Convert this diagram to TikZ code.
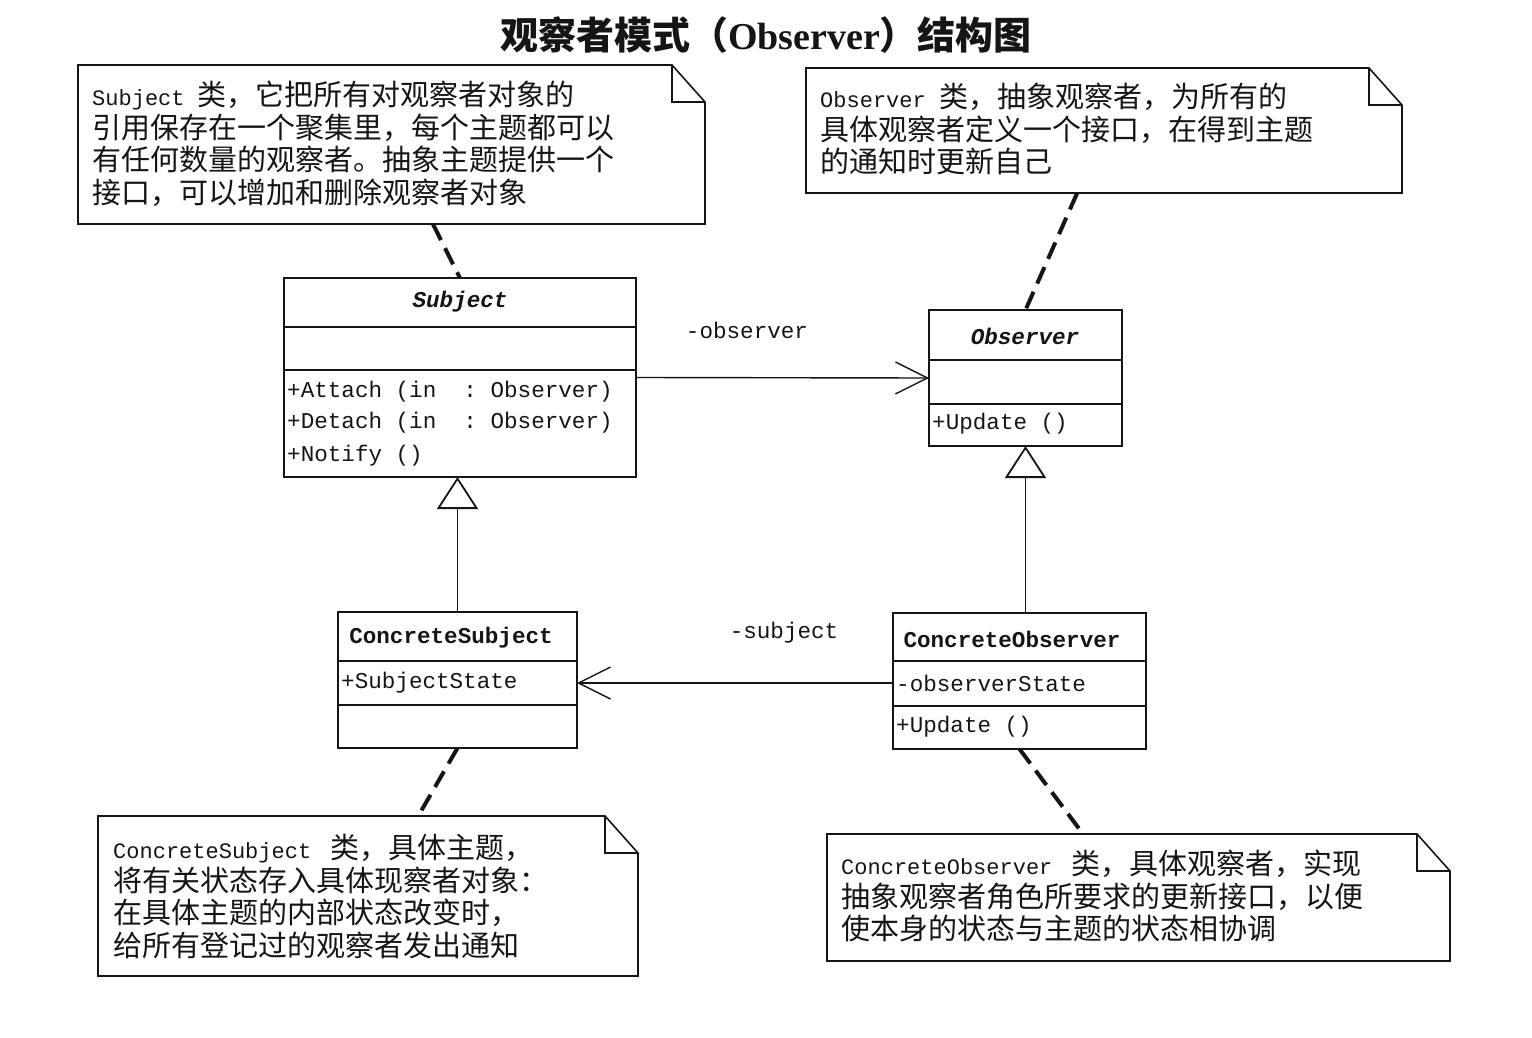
\documentclass[tikz,border=0pt]{standalone}
\usepackage{fontspec}
\setmainfont{Noto Sans CJK SC}
\newfontfamily\monof{Liberation Mono}
\newfontfamily\titlelat{Liberation Serif}
\usetikzlibrary{arrows.meta,calc}
\definecolor{ink}{HTML}{151515}
\newcommand\lat[1]{{\monof\fontsize{22}{32.5}\selectfont #1}}
\begin{document}
\begin{tikzpicture}[x=1pt,y=-1pt,
  clsbox/.style={draw=ink, line width=1.8pt, inner sep=0pt, outer sep=0pt},
  divline/.style={draw=ink, line width=1.8pt},
  mem/.style={font=\monof\fontsize{22.6}{26}\selectfont, inner sep=0pt, text=ink},
  cname/.style={font=\monof\bfseries\fontsize{22.6}{26}\selectfont, inner sep=0pt, text=ink},
  aname/.style={font=\monof\bfseries\itshape\fontsize{22.6}{26}\selectfont, inner sep=0pt, text=ink},
  notebox/.style={draw=none, inner sep=0pt, outer sep=0pt},
  noteline/.style={draw=ink, line width=1.6pt, line join=miter},
  notetext/.style={font=\fontsize{29}{32.5}\selectfont, align=left, inner sep=0pt, anchor=north west, text=ink},
  notelink/.style={draw=ink, line width=4pt, dash pattern=on 18pt off 9pt},
  assoc/.style={draw=ink, line width=1.4pt, -{Straight Barb[length=32pt,width=32pt,line width=1.4pt]}},
  gen/.style={draw=ink, line width=1.4pt, -{Triangle[open,length=32pt,width=41pt,line width=1.8pt]}},
  lbl/.style={font=\monof\fontsize{22.6}{26}\selectfont, inner sep=0pt, text=ink}
]
\useasboundingbox[fill=white] (0,0) rectangle (1532,1038);

% title
\node[inner sep=0pt, text=ink, font=\fontsize{38}{42}\selectfont\bfseries] (title) at (766,35)
  {观察者模式（{\titlelat\bfseries Observer}）结构图};

% notes
\newcommand\drawnote[1]{%
  \draw[noteline] (#1.north west) -- ($(#1.north east)+(-33,0)$) -- ($(#1.north east)+(0,37)$)
     -- (#1.south east) -- (#1.south west) -- cycle;
  \draw[noteline] ($(#1.north east)+(-33,0)$) -- ($(#1.north east)+(-33,37)$) -- ($(#1.north east)+(0,37)$);}

\node[notebox, minimum width=627pt, minimum height=159pt] (n1) at (391.5,144.5) {};
\drawnote{n1}
\node[notetext] (t1) at (92,81) {\lat{Subject\ }类，它把所有对观察者对象的\\
引用保存在一个聚集里，每个主题都可以\\
有任何数量的观察者。抽象主题提供一个\\
接口，可以增加和删除观察者对象};

\node[notebox, minimum width=596pt, minimum height=125pt] (n2) at (1104,130.5) {};
\drawnote{n2}
\node[notetext] (t2) at (820,83) {\lat{Observer\ }类，抽象观察者，为所有的\\
具体观察者定义一个接口，在得到主题\\
的通知时更新自己};

\node[notebox, minimum width=540pt, minimum height=160pt] (n3) at (368,896) {};
\drawnote{n3}
\node[notetext] (t3) at (113,834) {\lat{ConcreteSubject\ }\hspace{6pt}类，具体主题，\\
将有关状态存入具体现察者对象：\\
在具体主题的内部状态改变时，\\
给所有登记过的观察者发出通知};

\node[notebox, minimum width=623pt, minimum height=127pt] (n4) at (1138.5,897.5) {};
\drawnote{n4}
\node[notetext] (t4) at (841,850) {\lat{ConcreteObserver\ }\hspace{6pt}类，具体观察者，实现\\
抽象观察者角色所要求的更新接口，以便\\
使本身的状态与主题的状态相协调};

% classes
\node[clsbox, minimum width=352pt, minimum height=199pt] (subject) at (460,377.5) {};
\draw[divline] ($(subject.north west)+(0,49)$) -- ($(subject.north east)+(0,49)$);
\draw[divline] ($(subject.north west)+(0,92)$) -- ($(subject.north east)+(0,92)$);
\node[aname] (subjn) at (460,302) {Subject};
\node[mem, anchor=west] (sm1) at (287,392) {+Attach (in\ \ :\ Observer)};
\node[mem, anchor=west] (sm2) at (287,423) {+Detach (in\ \ :\ Observer)};
\node[mem, anchor=west] (sm3) at (287,456) {+Notify ()};

\node[clsbox, minimum width=193pt, minimum height=136pt] (observer) at (1025.5,378) {};
\draw[divline] ($(observer.north west)+(0,50)$) -- ($(observer.north east)+(0,50)$);
\draw[divline] ($(observer.north west)+(0,94)$) -- ($(observer.north east)+(0,94)$);
\node[aname] (obsn) at (1025,336) {Observer};
\node[mem, anchor=west] (om1) at (932,424) {+Update ()};

\node[clsbox, minimum width=239pt, minimum height=136pt] (csubj) at (457.5,680) {};
\draw[divline] ($(csubj.north west)+(0,49)$) -- ($(csubj.north east)+(0,49)$);
\draw[divline] ($(csubj.north west)+(0,93)$) -- ($(csubj.north east)+(0,93)$);
\node[cname] (csn) at (451,638) {ConcreteSubject};
\node[mem, anchor=west] (csa) at (341,683) {+SubjectState};

\node[clsbox, minimum width=253pt, minimum height=136pt] (cobs) at (1019.5,681) {};
\draw[divline] ($(cobs.north west)+(0,48)$) -- ($(cobs.north east)+(0,48)$);
\draw[divline] ($(cobs.north west)+(0,93)$) -- ($(cobs.north east)+(0,93)$);
\node[cname] (con) at (1012,639) {ConcreteObserver};
\node[mem, anchor=west] (coa) at (896,683) {-observerState};
\node[mem, anchor=west] (com) at (896,727) {+Update ()};

% associations
\draw[assoc] (subject.east) -- (observer.west);
\node[lbl] (l1) at (747,330) {-observer};
\draw[assoc] (cobs.west |- csa.west) -- (csubj.east |- csa.west);
\node[lbl] (l2) at (784,633) {-subject};

% generalizations
\draw[gen] (csubj.north) -- (csubj.north |- subject.south);
\draw[gen] (observer.south |- cobs.north) -- (observer.south);

% note links
\draw[notelink] ($(n1.south west)!0.566!(n1.south east)$) -- (subject.north);
\draw[notelink] ($(n2.south west)!0.455!(n2.south east)$) -- (observer.north);
\draw[notelink] (csubj.south) -- ($(n3.north west)!0.593!(n3.north east)$);
\draw[notelink] (cobs.south) -- ($(n4.north west)!0.411!(n4.north east)$);
\end{tikzpicture}
\end{document}
